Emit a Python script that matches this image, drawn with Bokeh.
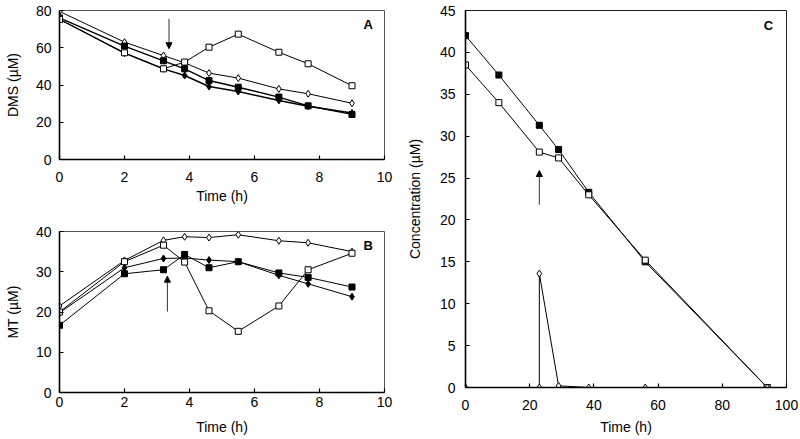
from bokeh.plotting import figure
from bokeh.layouts import row, column
from bokeh.models import Range1d, FixedTicker, Arrow, NormalHead, Label
from bokeh.embed import file_html
from bokeh.resources import INLINE

FONT = "Liberation Sans"

# ---------------- data ----------------
# Panel A: DMS (uM) vs time (h)
t_ab = [0, 2, 3.2, 3.85, 4.6, 5.5, 6.75, 7.65, 9.0]
a_open_diamond = [79.5, 63.0, 55.8, 51.9, 46.4, 43.7, 37.9, 35.3, 30.2]
a_filled_square = [76.0, 60.9, 53.0, 48.7, 42.4, 38.8, 33.5, 28.8, 24.2]
a_filled_diamond = [75.3, 57.1, 48.7, 45.1, 39.2, 36.5, 31.7, 28.6, 25.0]
a_open_square = [75.2, 57.3, 48.7, 52.3, 60.3, 67.3, 57.6, 51.4, 39.6]

# Panel B: MT (uM) vs time (h)
b_open_diamond = [21.5, 32.8, 37.8, 38.7, 38.5, 39.2, 37.7, 37.2, 35.0]
b_open_square = [20.0, 32.5, 36.6, 32.4, 20.3, 15.2, 21.5, 30.5, 34.6]
b_filled_diamond = [19.8, 31.0, 33.3, 33.4, 32.9, 32.5, 29.1, 27.0, 23.8]
b_filled_square = [16.7, 29.5, 30.5, 34.3, 31.0, 32.5, 29.7, 28.6, 26.2]

# Panel C: concentration (uM) vs time (h)
t_c = [0, 10.4, 23, 29, 38.4, 56, 94]
c_filled_square = [42.0, 37.3, 31.3, 28.4, 23.3, 15.0, 0.0]
c_open_square = [38.5, 34.0, 28.1, 27.4, 23.0, 15.2, 0.0]
t_c_diamond = [0, 23, 23, 29, 38.4, 56, 94]
c_open_diamond = [0.0, 0.0, 13.6, 0.2, 0.0, 0.0, 0.0]

# addition arrows: (x, y_start, y_end)
arrow_a = (3.37, 75.5, 59.5)
arrow_b = (3.32, 20.1, 28.9)
arrow_c = (23.0, 21.8, 25.9)

xticks_ab = [0, 2, 4, 6, 8, 10]
yticks_a = [0, 20, 40, 60, 80]
yticks_b = [0, 10, 20, 30, 40]
xticks_c = [0, 20, 40, 60, 80, 100]
yticks_c = [0, 5, 10, 15, 20, 25, 30, 35, 40, 45]


def make_fig(w, h, xr, yr, xt, yt, xlabel, ylabel, mb, outline,
             xls=12, xals=3, yls=8, yals=12):
    p = figure(width=w, height=h, x_range=Range1d(*xr), y_range=Range1d(*yr),
               output_backend="svg", toolbar_location=None,
               min_border_left=mb[0], min_border_right=mb[1],
               min_border_top=mb[2], min_border_bottom=mb[3])
    p.xgrid.visible = False
    p.ygrid.visible = False
    p.outline_line_color = outline
    p.outline_line_width = 1
    p.background_fill_color = "white"
    p.border_fill_color = "white"
    p.xaxis.ticker = FixedTicker(ticks=xt)
    p.yaxis.ticker = FixedTicker(ticks=yt)
    p.xaxis.axis_label = xlabel
    p.yaxis.axis_label = ylabel
    for ax in (p.xaxis[0], p.yaxis[0]):
        ax.axis_line_color = "black"
        ax.axis_line_width = 1.6
        ax.major_tick_in = 4
        ax.major_tick_out = 0
        ax.major_tick_line_color = "black"
        ax.major_tick_line_width = 1.2
        ax.minor_tick_line_color = None
        ax.major_label_text_font = FONT
        ax.major_label_text_font_size = "14px"
        ax.major_label_text_color = "black"
        ax.axis_label_text_font = FONT
        ax.axis_label_text_font_size = "14px"
        ax.axis_label_text_font_style = "normal"
        ax.axis_label_text_color = "black"
    p.xaxis.major_label_standoff = xls
    p.xaxis.axis_label_standoff = xals
    p.yaxis.major_label_standoff = yls
    p.yaxis.axis_label_standoff = yals
    return p


def series(p, x, y, marker, filled, size=6, lw=1.0):
    p.line(x, y, line_color="black", line_width=lw)
    p.scatter(x, y, marker=marker, size=size, line_color="black", line_width=1,
              fill_color="black" if filled else "white")


def add_arrow(p, spec):
    x, y0, y1 = spec
    p.add_layout(Arrow(x_start=x, y_start=y0, x_end=x, y_end=y1,
                       line_color="#333333", line_width=1,
                       end=NormalHead(size=6, fill_color="black", line_color="black")))


def add_tag(p, x, y, txt):
    p.add_layout(Label(x=x, y=y, text=txt, text_font=FONT, text_font_size="13px",
                       text_font_style="bold", text_align="center",
                       text_baseline="middle", text_color="black"))


# ---------------- panel A ----------------
pA = make_fig(400, 212, (0, 10), (0, 80), xticks_ab, yticks_a, "Time (h)", "DMS (\u00b5M)",
              (59, 15, 10, 53), "#555555", xls=12, xals=3)
series(pA, t_ab, a_open_diamond, "diamond", False, size=7)
series(pA, t_ab, a_filled_square, "square", True, size=6, lw=1.4)
series(pA, t_ab, a_filled_diamond, "diamond", True, size=7, lw=1.4)
series(pA, t_ab, a_open_square, "square", False, size=6)
add_arrow(pA, arrow_a)
add_tag(pA, 9.5, 72.5, "A")

# ---------------- panel B ----------------
pB = make_fig(400, 227, (0, 10), (0, 40), xticks_ab, yticks_b, "Time (h)", "MT (\u00b5M)",
              (59, 16, 19, 47), "#555555", xls=4, xals=9)
series(pB, t_ab, b_open_diamond, "diamond", False, size=7)
series(pB, t_ab, b_filled_diamond, "diamond", True, size=7)
series(pB, t_ab, b_filled_square, "square", True, size=6)
series(pB, t_ab, b_open_square, "square", False, size=6)
add_arrow(pB, arrow_b)
add_tag(pB, 9.5, 36.5, "B")

# ---------------- panel C ----------------
pC = make_fig(400, 439, (0, 100), (0, 45), xticks_c, yticks_c, "Time (h)", "Concentration (\u00b5M)",
              (65, 14, 10, 52), "#222222", xls=12, xals=6, yls=10, yals=14)
series(pC, t_c, c_filled_square, "square", True, size=6)
series(pC, t_c, c_open_square, "square", False, size=6)
series(pC, t_c_diamond, c_open_diamond, "diamond", False, size=7)
add_arrow(pC, arrow_c)
add_tag(pC, 94.4, 43.2, "C")

layout = row(column(pA, pB), pC)

open("out.html", "w").write(file_html(layout, INLINE))
